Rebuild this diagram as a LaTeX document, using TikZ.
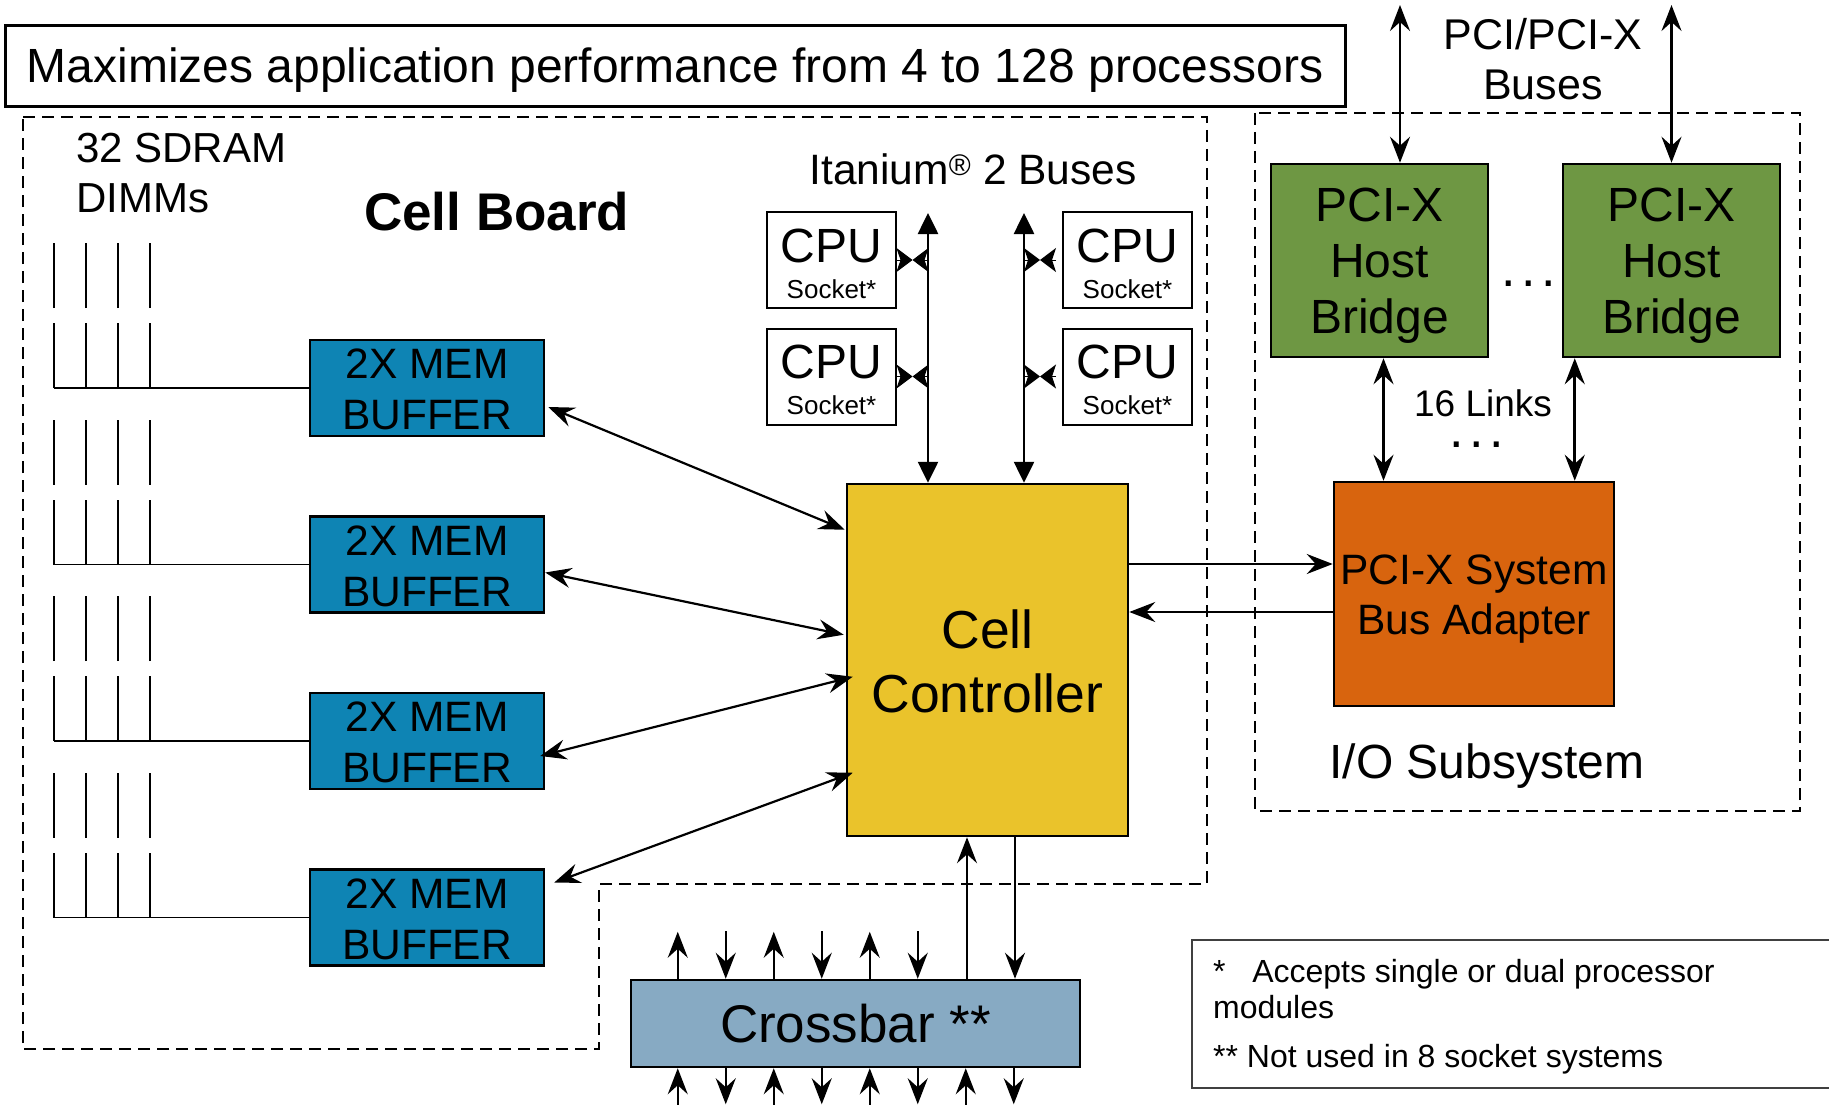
\documentclass[tikz,border=0pt]{standalone}
\usepackage{fontspec}
\setmainfont{Liberation Sans}
\usetikzlibrary{arrows.meta,calc}
\newcommand\fsz[2]{\fontsize{#1}{#2}\selectfont}
\definecolor{cMem}{RGB}{14,132,180}
\definecolor{cCell}{RGB}{234,195,43}
\definecolor{cAdapter}{RGB}{216,100,14}
\definecolor{cHost}{RGB}{110,151,67}
\definecolor{cXbar}{RGB}{135,170,195}
\begin{document}
\begin{tikzpicture}[x=1pt,y=-1pt,
  >={Stealth[length=26pt,width=20pt,inset=9pt]},
  box/.style={draw=black, line width=2.5pt, inner sep=0pt, align=center, text depth=0pt},
  memstyle/.style={box, fill=cMem, minimum width=234pt, minimum height=96pt, font=\fsz{42.5}{51}, text height=83pt},
  cpustyle/.style={box, line width=2pt, fill=white, minimum width=129pt, minimum height=96pt, font=\fsz{26}{36}, text height=76pt},
  hoststyle/.style={box, fill=cHost, minimum width=217pt, minimum height=193pt, font=\fsz{48}{56}, text height=145pt},
  txt/.style={inner sep=0pt},
  dimm/.style={line width=1.8pt},
  zone/.style={line width=2.2pt, dash pattern=on 12pt off 7pt},
  memlink/.style={line width=2.2pt, <->},
  heavy/.style={line width=2.6pt},
  light/.style={line width=1.8pt},
  busarrow/.style={line width=2.6pt, {Triangle[length=21pt,width=20pt]}-{Triangle[length=21pt,width=20pt]}},
  bow/.style={line width=1pt, -{Stealth[length=16pt,width=24pt,inset=4pt]}}
]
\useasboundingbox (0,0) rectangle (1829,1105);
\fill[white] (0,0) rectangle (1829,1105);
\clip (0,0) rectangle (1829,1105);

% headline
\node[box, line width=3pt, minimum width=1340pt, minimum height=81pt,
      font=\fsz{48}{52}, text height=33pt] (title) at (675,66.5)
  {Maximizes application performance from 4 to 128 processors};

% board outlines
\draw[zone] (23,117) -- (1207,117) -- (1207,884) -- (599,884) -- (599,1049) -- (23,1049) -- cycle;
\draw[zone] (1255,113) rectangle (1800,811);

% cell board labels
\node[txt, anchor=north west, align=left, font=\fsz{42}{50}] (dimmlbl) at (76,133) {32 SDRAM\\DIMMs};
\node[txt, anchor=base west, font=\fsz{53}{60}\bfseries] (cellboard) at (364,230) {Cell Board};
\node[txt, anchor=base, font=\fsz{42.5}{50}] (itanium) at (973,185) {Itanium\textsuperscript{\textregistered} 2 Buses};

% memory buffers
\node[memstyle] (mem1) at (427,388)   {2X MEM\\BUFFER};
\node[memstyle] (mem2) at (427,564.5) {2X MEM\\BUFFER};
\node[memstyle] (mem3) at (427,741)   {2X MEM\\BUFFER};
\node[memstyle] (mem4) at (427,917.5) {2X MEM\\BUFFER};

% DIMM slots feeding each buffer
\foreach \m in {1,...,4}{
  \draw[dimm] (mem\m.west) -- ($(mem\m.west)+(-255,0)$);
  \foreach \dx in {0,32,64,96}{
    \draw[dimm] ($(mem\m.west)+(-255+\dx,0)$) -- ++(0,-65);
    \draw[dimm] ($(mem\m.west)+(-255+\dx,-80)$) -- ++(0,-65);
  }
}

% CPU sockets
\node[cpustyle] (cpu1) at (831.5,260)   {{\fsz{48}{48}CPU}\\Socket*};
\node[cpustyle] (cpu2) at (831.5,376.5) {{\fsz{48}{48}CPU}\\Socket*};
\node[cpustyle] (cpu3) at (1127.5,260)  {{\fsz{48}{48}CPU}\\Socket*};
\node[cpustyle] (cpu4) at (1127.5,376.5){{\fsz{48}{48}CPU}\\Socket*};

% cell controller
\node[box, fill=cCell, minimum width=281pt, minimum height=352pt, font=\fsz{53.5}{64}, text height=104pt] (cc) at (987.5,660) {Cell\\Controller};

% processor buses
\coordinate (busL) at (928,213);
\coordinate (busR) at (1024,213);
\draw[busarrow] (busL) -- (busL |- cc.north);
\draw[busarrow] (busR) -- (busR |- cc.north);

% socket taps on the buses
\foreach \c in {1,2}{
  \coordinate (tapA) at (busL |- cpu\c.east);
  \coordinate (tapM) at ($(cpu\c.east)!0.5!(tapA)$);
  \draw[bow] (cpu\c.east) -- (tapM);
  \draw[bow] (tapA) -- (tapM);
}
\foreach \c in {3,4}{
  \coordinate (tapA) at (busR |- cpu\c.west);
  \coordinate (tapB) at ($(cpu\c.west)+(-6,0)$);
  \coordinate (tapM) at ($(tapA)!0.5!(tapB)$);
  \draw[bow] (tapB) -- (tapM);
  \draw[bow] (tapA) -- (tapM);
}

% buffer links
\draw[memlink] ($(mem1.east)+(3,19)$)  -- ($(cc.north west)+(-1,47)$);
\draw[memlink] ($(mem2.east)+(0,8)$)   -- ($(cc.north west)+(-2,152)$);
\draw[memlink] ($(mem3.east)+(-5,15)$) -- ($(cc.north west)+(7,194)$);
\draw[memlink] ($(mem4.east)+(9,-35)$) -- ($(cc.north west)+(7,290)$);

% I/O subsystem
\node[box, fill=cAdapter, minimum width=280pt, minimum height=224pt, font=\fsz{42.5}{50}, text height=80pt] (adapter) at (1474,594) {PCI-X System\\Bus Adapter};
\node[hoststyle] (bridgeL) at (1379.5,260.5) {PCI-X\\Host\\Bridge};
\node[hoststyle] (bridgeR) at (1671.5,260.5) {PCI-X\\Host\\Bridge};
\node[txt, anchor=base, font=\fsz{52}{52}] (dots1) at (1529,286) {.\hspace{5.5pt}.\hspace{5.5pt}.};
\node[txt, anchor=base, font=\fsz{37}{40}] (links) at (1483,416) {16 Links};
\node[txt, anchor=base, font=\fsz{52}{52}] (dots2) at (1477,447) {.\hspace{5.5pt}.\hspace{5.5pt}.};
\node[txt, anchor=base, font=\fsz{48}{50}] (iolbl) at (1487,778) {I/O Subsystem};
\node[txt, anchor=north, align=center, font=\fsz{43}{50}] (pcibuses) at (1543,18) {PCI/PCI-X\\Buses};

\coordinate (pciL) at (1400,5);
\coordinate (pciR) at (1671.5,5);
\draw[heavy,<->] (pciL) -- (pciL |- bridgeL.north);
\draw[heavy,<->] (pciR) -- (pciR |- bridgeR.north);

\coordinate (lkL) at ($(bridgeL.south)+(4,0)$);
\coordinate (lkR) at ($(bridgeR.south west)+(13,0)$);
\draw[heavy,<->] (lkL) -- (lkL |- adapter.north);
\draw[heavy,<->] (lkR) -- (lkR |- adapter.north);

\coordinate (hiOut) at ($(cc.east)+(0,-96)$);
\coordinate (loIn) at ($(adapter.west)+(0,18)$);
\draw[heavy,->] (hiOut) -- (hiOut -| adapter.west);
\draw[heavy,->] (loIn) -- (loIn -| cc.east);

% crossbar
\node[box, fill=cXbar, minimum width=449pt, minimum height=87pt, font=\fsz{53}{56}, text height=37pt] (xbar) at (855.5,1023.5) {Crossbar **};
\coordinate (ccUp) at ($(cc.south)+(-20.5,0)$);
\coordinate (ccDn) at ($(cc.south)+(27.5,0)$);
\draw[light,->] (ccUp |- xbar.north) -- (ccUp);
\draw[light,->] (ccDn) -- (ccDn |- xbar.north);

\foreach \k in {0,...,5}{
  \coordinate (xt) at ($(xbar.north west)+(48+48*\k,0)$);
  \ifodd\k
    \draw[light,<-] (xt) -- ++(0,-48);
  \else
    \draw[light,->] (xt) -- ++(0,-47);
  \fi
}
\foreach \k in {0,...,7}{
  \coordinate (xb) at ($(xbar.south west)+(48+48*\k,0)$);
  \ifodd\k
    \draw[light,->] (xb) -- ++(0,36);
  \else
    \draw[light,<-] (xb) -- ++(0,45);
  \fi
}

% footnotes
\node[draw=black!75, line width=1.5pt, anchor=north west, minimum width=660pt, minimum height=148pt, inner sep=0pt] (legend) at (1191,939) {};
\node[txt, anchor=base west, font=\fsz{32}{36}] (note1) at (1213,982) {*\hspace{26.6pt}Accepts single or dual processor};
\node[txt, anchor=base west, font=\fsz{32}{36}] (note1b) at (1213,1018) {modules};
\node[txt, anchor=base west, font=\fsz{32}{36}] (note2) at (1213,1067) {** Not used in 8 socket systems};
\end{tikzpicture}
\end{document}
